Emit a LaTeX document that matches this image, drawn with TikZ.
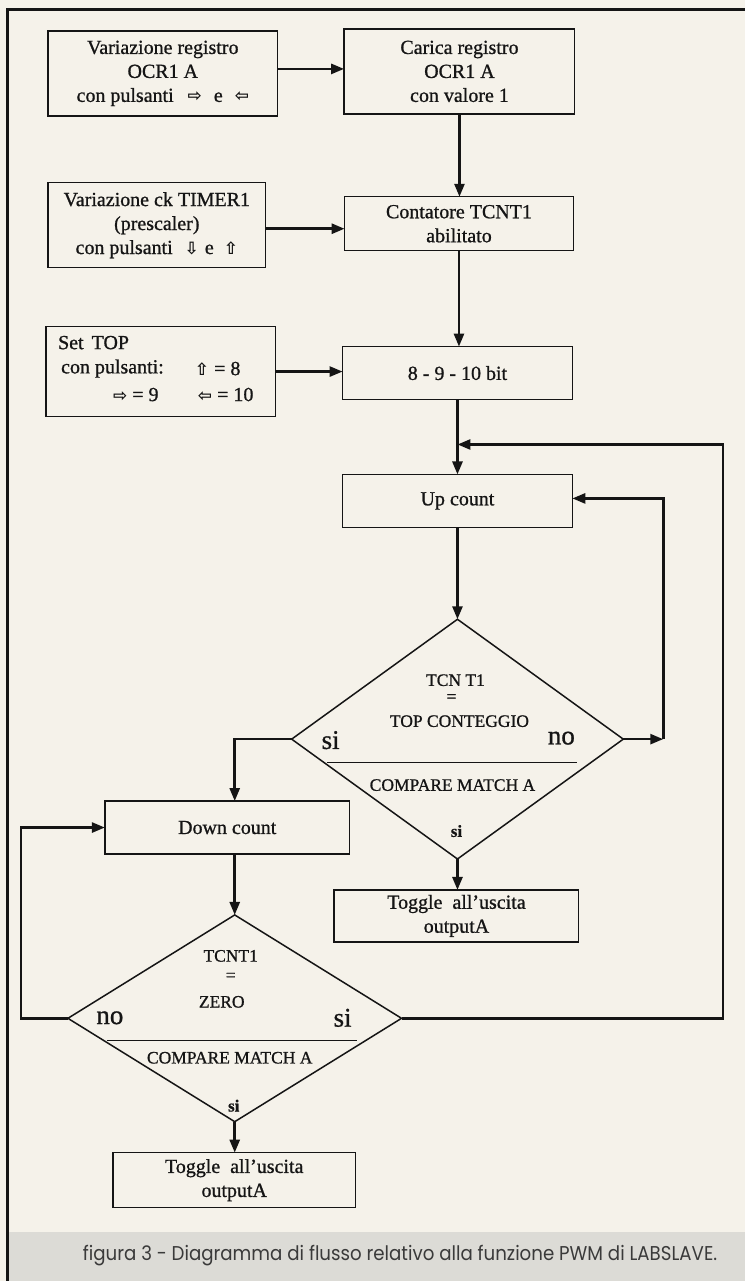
\documentclass[tikz,border=0pt]{standalone}
\usepackage{fontspec}
\setmainfont{Liberation Serif}[FakeBold=0.9]
\newfontfamily\symfont{DejaVu Sans Bold}
\newfontfamily\capfont{Poppins}
\usetikzlibrary{arrows.meta,shapes.geometric}
\definecolor{paper}{HTML}{F5F2EA}
\definecolor{band}{HTML}{DCDBD6}
\definecolor{ink}{HTML}{151515}
\definecolor{capink}{HTML}{3A3A3A}
\newcommand{\btnicon}[1]{{\symfont\fontsize{17}{17}\selectfont #1}}
\begin{document}
\begin{tikzpicture}[x=1pt,y=-1pt,
  box/.style={draw=ink,line width=1.3pt,rectangle,inner sep=0pt,outer sep=0pt,align=center,text=ink,font=\fontsize{20}{24}\selectfont},
  dia/.style={draw=ink,line width=1.5pt,diamond,inner sep=0pt,outer sep=0pt},
  conn/.style={draw=ink,line width=2.6pt},
  arr/.style={conn,-{Triangle[length=13pt,width=10pt]}},
  dtext/.style={font=\fontsize{17.5}{19}\selectfont,inner sep=0pt,text=ink},
  bigt/.style={font=\fontsize{27}{29}\selectfont,inner sep=0pt,text=ink},
  smallb/.style={font=\bfseries\fontsize{17}{19}\selectfont,inner sep=0pt,text=ink},
  lt/.style={font=\fontsize{20}{24}\selectfont,inner sep=0pt,anchor=west,text=ink}]
% background, frame, caption band
\fill[paper] (0,0) rectangle (746,1282);
\fill[band] (9,1233) rectangle (746,1282);
\draw[ink,line width=3pt] (8,1282) -- (8,10) -- (746,10);
\node[text=capink,inner sep=0pt] (cap) at (400.5,1257)
  {\resizebox{635pt}{\height}{\capfont\fontsize{20}{22}\selectfont figura 3 - Diagramma di flusso relativo alla funzione PWM di LABSLAVE.}};

% boxes
\node[box,minimum width=230pt,minimum height=85pt] (b1) at (163,73.5)
  {Variazione registro\\OCR1 A\\con pulsanti\hspace{14pt}\btnicon{⇨}\hspace{12pt}e\hspace{12pt}\btnicon{⇦}};
\node[box,minimum width=231pt,minimum height=85pt] (b2) at (460,71.5)
  {Carica registro\\OCR1 A\\con valore 1};
\node[box,minimum width=218pt,minimum height=85pt] (b3) at (157,225.5)
  {Variazione ck TIMER1\\(prescaler)\\con pulsanti\hspace{12pt}\btnicon{⇩}\hspace{6pt}e\hspace{10pt}\btnicon{⇧}};
\node[box,minimum width=229pt,minimum height=54pt] (b4) at (459.5,224)
  {Contatore TCNT1\\abilitato};
\node[box,minimum width=230pt,minimum height=90pt] (b5) at (161,372) {};
\node[lt] (s1) at (58,343) {Set\hspace{8pt}TOP};
\node[lt] (s2) at (61,369) {con pulsanti:};
\node[lt] (s3) at (195,369) {\btnicon{⇧} = 8};
\node[lt] (s4) at (113,395) {\btnicon{⇨} = 9};
\node[lt] (s5) at (198,395) {\btnicon{⇦} = 10};
\node[box,minimum width=230pt,minimum height=53pt] (b6) at (458,373.5) {8 - 9 - 10 bit};
\node[box,minimum width=230pt,minimum height=53pt] (up) at (458,501.5) {Up count};

% diamond 1
\node[dia,minimum width=332pt,minimum height=240pt] (d1) at (458,740) {};
\node[dtext] (d1a) at (456,681) {TCN T1};
\node[dtext] (d1b) at (452,699) {=};
\node[dtext] (d1c) at (460,722) {TOP CONTEGGIO};
\node[bigt] (d1si) at (331,741) {si};
\node[bigt] (d1no) at (562,739) {no};
\draw[ink,line width=1.2pt] (327,763) -- (578,763);
\node[dtext] (d1d) at (453,786) {COMPARE MATCH A};
\node[smallb] (d1e) at (457,832) {si};
\node[box,minimum width=245pt,minimum height=52pt] (t1) at (457,917)
  {Toggle\hspace{10pt}all’uscita\\outputA};

\node[box,minimum width=245pt,minimum height=53pt] (down) at (227.5,828.5) {Down count};

% diamond 2
\node[dia,minimum width=334pt,minimum height=207pt] (d2) at (235,1019.5) {};
\node[dtext] (d2a) at (231,957) {TCNT1};
\node[dtext] (d2b) at (231,978) {=};
\node[dtext] (d2c) at (222,1003) {ZERO};
\node[bigt] (d2no) at (110,1019) {no};
\node[bigt] (d2si) at (343,1019) {si};
\draw[ink,line width=1.2pt] (107,1042) -- (357,1042);
\node[dtext] (d2d) at (230,1059) {COMPARE MATCH A};
\node[smallb] (d2e) at (234,1107) {si};
\node[box,minimum width=243pt,minimum height=55pt] (t2) at (234.5,1181.5)
  {Toggle\hspace{10pt}all’uscita\\outputA};

% helper coordinates
\coordinate (y69) at (0,69);
\coordinate (y229) at (0,229);
\coordinate (k) at (664,499);
\coordinate (rr) at (724,445);
\coordinate (ll) at (21,828.5);

% connectors
\draw[arr] (b1.east |- y69) -- (b2.west |- y69);
\draw[arr] (b3.east |- y229) -- (b4.west |- y229);
\draw[arr] (b5.east) -- (b5.east -| b6.west);
\draw[arr] (b2.south) -- (b2.south |- b4.north);
\draw[arr] (b4.south) -- (b4.south |- b6.north);
\draw[arr] (b6.south) -- (up.north);
\draw[arr] (up.south) -- (d1.north);
\draw[arr] (d1.east) -- (d1.east -| k);
\draw[arr] (d1.east -| k) -- (k) -- (k -| up.east);
\draw[arr] (d1.west) -| (d2.north |- down.north);
\draw[arr] (d1.south) -- (d1.south |- t1.north);
\draw[arr] (down.south -| d2.north) -- (d2.north);
\draw[arr] (d2.west) -| (ll) -- (down.west);
\draw[arr] (d2.east) -| (rr) -- (rr -| b6.south);
\draw[arr] (d2.south) -- (d2.south |- t2.north);
\end{tikzpicture}
\end{document}
